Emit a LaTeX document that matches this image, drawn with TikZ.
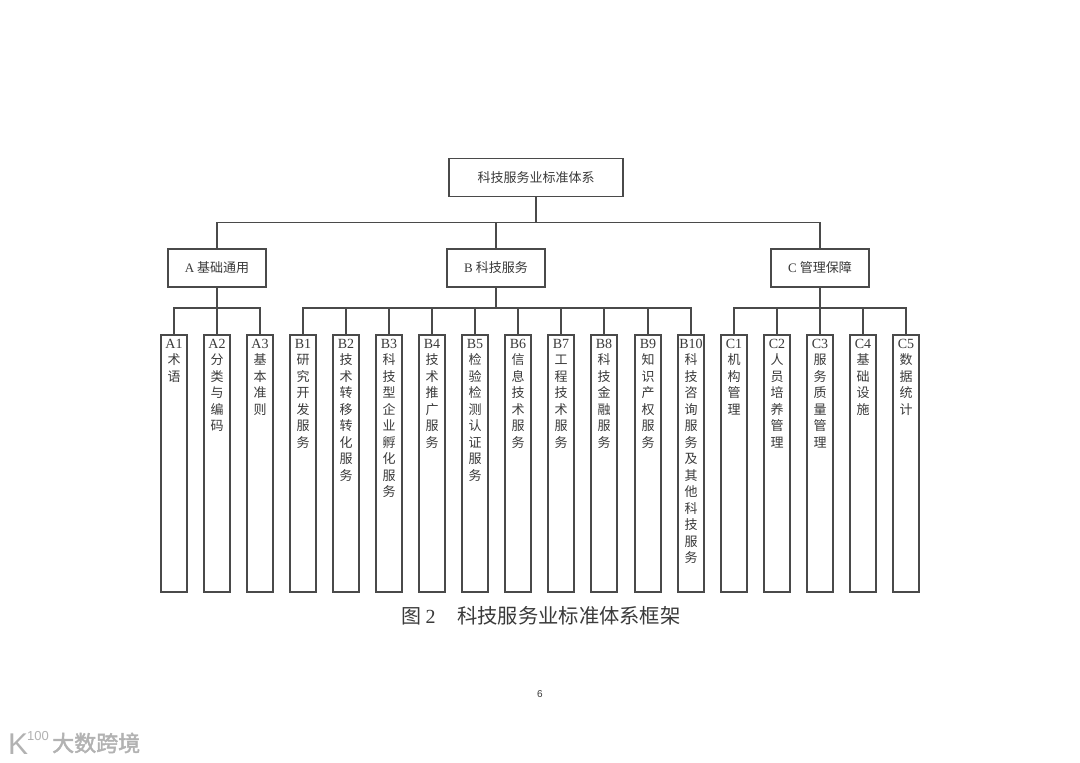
\documentclass[tikz,border=0pt]{standalone}
\usepackage{fontspec}
\setmainfont{Liberation Serif}
\newfontfamily\cjk{Noto Sans CJK SC}
\newfontfamily\cjkb[FakeBold=2]{Noto Sans CJK SC}
\newfontfamily\numf{Liberation Sans}
\definecolor{ink}{HTML}{3A3A3A}
\definecolor{edge}{HTML}{4A4A4A}
\tikzset{
  boxnode/.style={draw=edge,line width=1.5pt,minimum width=98pt,minimum height=38pt,inner sep=0pt,text=ink,font=\fontsize{13}{13}\selectfont\cjk},
  leafnode/.style={draw=edge,line width=1.5pt,minimum width=26pt,minimum height=257pt,inner sep=0pt},
  leaftext/.style={anchor=north,inner sep=0pt,text=ink,align=center,text width=26pt,font=\fontsize{13}{16.5}\selectfont\cjk},
  wire/.style={draw=edge,line width=1.5pt}
}
\newcommand{\leaf}[3]{%
  \node[leafnode] (#1) at (#2,-463.5) {};
  \node[leaftext] (#1t) at (#2,-336) {\rule{0pt}{12pt}{\fontsize{14}{16.5}\selectfont\rmfamily #1}\\#3};
}
\begin{document}
\begin{tikzpicture}[x=1pt,y=1pt]
\useasboundingbox[fill=white] (0,0) rectangle (1080,-763);
\node[boxnode,minimum width=174pt] (top) at (536,-177.5) {科技服务业标准体系};
\node[boxnode] (A) at (217,-268) {{\rmfamily A} 基础通用};
\node[boxnode] (B) at (496,-268) {{\rmfamily B} 科技服务};
\node[boxnode] (C) at (820,-268) {{\rmfamily C} 管理保障};
\leaf{A1}{174}{术\\语}
\leaf{A2}{217}{分\\类\\与\\编\\码}
\leaf{A3}{260}{基\\本\\准\\则}
\leaf{B1}{303}{研\\究\\开\\发\\服\\务}
\leaf{B2}{346}{技\\术\\转\\移\\转\\化\\服\\务}
\leaf{B3}{389}{科\\技\\型\\企\\业\\孵\\化\\服\\务}
\leaf{B4}{432}{技\\术\\推\\广\\服\\务}
\leaf{B5}{475}{检\\验\\检\\测\\认\\证\\服\\务}
\leaf{B6}{518}{信\\息\\技\\术\\服\\务}
\leaf{B7}{561}{工\\程\\技\\术\\服\\务}
\leaf{B8}{604}{科\\技\\金\\融\\服\\务}
\leaf{B9}{648}{知\\识\\产\\权\\服\\务}
\leaf{B10}{691}{科\\技\\咨\\询\\服\\务\\及\\其\\他\\科\\技\\服\\务}
\leaf{C1}{734}{机\\构\\管\\理}
\leaf{C2}{777}{人\\员\\培\\养\\管\\理}
\leaf{C3}{820}{服\\务\\质\\量\\管\\理}
\leaf{C4}{863}{基\\础\\设\\施}
\leaf{C5}{906}{数\\据\\统\\计}
% first-level connectors
\coordinate (busT) at (536,-222.5);
\draw[wire] (top.south) -- (busT);
\draw[wire] (busT) -| (A.north);
\draw[wire] (busT) -| (C.north);
\draw[wire] (busT) -| (B.north);
% second-level connectors
\coordinate (busA) at (217,-308);
\coordinate (busB) at (496,-308);
\coordinate (busC) at (820,-308);
\draw[wire] (A.south) -- (busA);
\draw[wire] (B.south) -- (busB);
\draw[wire] (C.south) -- (busC);
\foreach \n in {A1,A2,A3} \draw[wire] (busA) -| (\n.north);
\foreach \n in {B1,B2,B3,B4,B5,B6,B7,B8,B9,B10} \draw[wire] (busB) -| (\n.north);
\foreach \n in {C1,C2,C3,C4,C5} \draw[wire] (busC) -| (\n.north);
% caption, page number, watermark
\node[inner sep=0pt,anchor=west,text=ink,font=\fontsize{20}{20}\selectfont\cjk] (cap1) at (401,-616) {图 {\rmfamily 2}};
\node[inner sep=0pt,anchor=west,text=ink,font=\fontsize{20.3}{20}\selectfont\cjk] (cap2) at (457,-616) {科技服务业标准体系框架};
\node[inner sep=0pt,text=ink,font=\fontsize{10}{10}\selectfont\numf] (page) at (540,-694) {6};
\node[inner sep=0pt,anchor=west,text=black!30,font=\fontsize{22}{22}\selectfont\cjkb] (wm) at (52,-743) {大数跨境};
\node[inner sep=0pt,anchor=west,text=black!30,font=\fontsize{30}{30}\selectfont\numf] (wmk) at (8,-744) {K};
\node[inner sep=0pt,anchor=west,text=black!30,font=\fontsize{13}{13}\selectfont\numf] (wmn) at (27,-736) {100};
\end{tikzpicture}
\end{document}
